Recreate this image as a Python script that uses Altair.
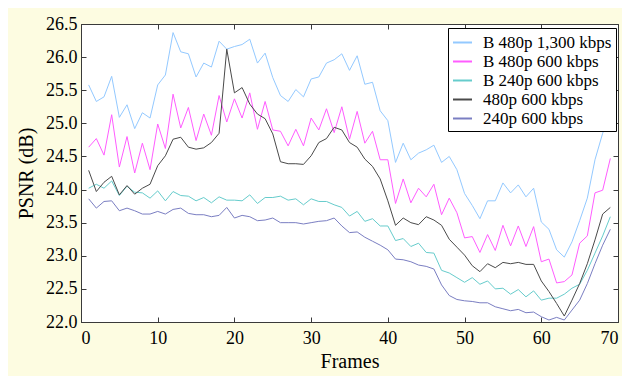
import altair as alt
import pandas as pd

frames = list(range(1, 70))

b480_1300 = [25.58, 25.33, 25.40, 25.71, 25.09, 25.28, 24.92, 25.16, 25.08, 25.58,
             25.73, 26.37, 26.08, 26.05, 25.70, 25.91, 25.85, 26.24, 26.12, 26.16,
             26.19, 26.27, 25.91, 26.06, 25.69, 25.42, 25.33, 25.51, 25.40, 25.67,
             25.70, 25.91, 25.96, 26.05, 25.80, 26.02, 25.59, 25.62, 25.19, 25.04,
             24.41, 24.70, 24.45, 24.55, 24.60, 24.67, 24.41, 24.50, 24.30, 23.94,
             23.76, 23.56, 23.83, 23.83, 24.10, 23.95, 24.07, 23.89, 24.02, 23.51,
             23.40, 23.09, 22.98, 23.21, 23.53, 23.87, 24.45, 24.85, 25.15]

b480_600 = [24.64, 24.77, 24.52, 25.13, 24.34, 24.80, 24.25, 24.70, 24.30, 24.99,
            24.62, 25.44, 24.93, 25.24, 24.74, 25.14, 24.82, 25.42, 25.02, 25.37,
            25.08, 25.46, 24.91, 25.33, 24.90, 24.88, 24.66, 24.91, 24.66, 25.08,
            24.90, 25.22, 24.86, 25.25, 24.76, 25.18, 24.70, 24.88, 24.45, 24.45,
            23.79, 24.16, 23.80, 24.02, 23.89, 24.08, 23.62, 23.87, 23.65, 23.27,
            23.29, 23.05, 23.32, 23.08, 23.46, 23.15, 23.45, 23.14, 23.44, 22.91,
            22.95, 22.59, 22.61, 22.71, 23.19, 23.30, 23.95, 23.99, 24.47]

b240_600 = [24.02, 24.08, 24.02, 24.13, 23.91, 24.05, 23.96, 23.95, 23.87, 23.98,
            23.83, 23.97, 23.91, 23.90, 23.83, 23.88, 23.80, 23.89, 23.84, 23.84,
            23.83, 23.92, 23.79, 23.88, 23.88, 23.90, 23.84, 23.86, 23.77, 23.86,
            23.82, 23.82, 23.77, 23.73, 23.60, 23.67, 23.52, 23.56, 23.45, 23.45,
            23.23, 23.26, 23.14, 23.19, 23.05, 23.04, 22.78, 22.74, 22.67, 22.60,
            22.67, 22.57, 22.62, 22.50, 22.51, 22.42, 22.49, 22.38, 22.47, 22.33,
            22.36, 22.36, 22.42, 22.51, 22.57, 22.78, 23.04, 23.30, 23.59]

s480_600 = [24.29, 23.97, 24.11, 24.20, 23.92, 24.06, 23.93, 24.02, 24.08, 24.36,
            24.51, 24.76, 24.79, 24.64, 24.61, 24.63, 24.71, 24.85, 26.12, 25.46,
            25.54, 25.29, 25.14, 25.07, 24.84, 24.42, 24.39, 24.39, 24.38, 24.51,
            24.71, 24.77, 24.94, 24.90, 24.71, 24.64, 24.46, 24.35, 24.16, 23.83,
            23.46, 23.57, 23.50, 23.47, 23.59, 23.54, 23.46, 23.25, 23.13, 23.01,
            22.85, 22.76, 22.88, 22.82, 22.90, 22.88, 22.90, 22.87, 22.87, 22.62,
            22.46, 22.28, 22.09, 22.33, 22.58, 22.88, 23.24, 23.63, 23.73]

s240_600 = [23.86, 23.72, 23.82, 23.83, 23.68, 23.72, 23.68, 23.63, 23.63, 23.67,
            23.63, 23.70, 23.72, 23.64, 23.62, 23.62, 23.59, 23.61, 23.73, 23.57,
            23.61, 23.59, 23.53, 23.54, 23.57, 23.50, 23.50, 23.50, 23.48, 23.50,
            23.52, 23.53, 23.57, 23.45, 23.35, 23.36, 23.28, 23.22, 23.16, 23.09,
            22.95, 22.94, 22.91, 22.86, 22.84, 22.80, 22.56, 22.40, 22.34, 22.32,
            22.31, 22.29, 22.29, 22.23, 22.20, 22.17, 22.19, 22.14, 22.15, 22.08,
            22.03, 22.07, 22.03, 22.18, 22.33, 22.58, 22.88, 23.16, 23.40]

series_names = ["B 480p 1,300 kbps", "B 480p 600 kbps", "B 240p 600 kbps",
                "480p 600 kbps", "240p 600 kbps"]
series_colors = ["#93C9FF", "#FF5CFF", "#66CCCC", "#4A4A4A", "#7A7EC2"]
all_values = [b480_1300, b480_600, b240_600, s480_600, s240_600]

x_ticks = [0, 10, 20, 30, 40, 50, 60, 70]
y_ticks = [22.0, 22.5, 23.0, 23.5, 24.0, 24.5, 25.0, 25.5, 26.0, 26.5]

rows = []
for name, vals in zip(series_names, all_values):
    for f, v in zip(frames, vals):
        rows.append({"Frame": f, "PSNR": v, "Series": name})
df = pd.DataFrame(rows)

FONT = "'Liberation Serif', 'Times New Roman', 'DejaVu Serif', serif"
AX = "#3a3a3a"

xscale = alt.Scale(domain=[0, 70], nice=False, zero=False)
yscale = alt.Scale(domain=[22.0, 26.5], nice=False, zero=False)

main = alt.Chart(df).mark_line(strokeWidth=1).encode(
    x=alt.X("Frame:Q", scale=xscale,
            axis=alt.Axis(values=x_ticks, title="Frames", ticks=False, grid=False,
                          labelFont=FONT, labelFontSize=18, labelColor="black",
                          labelPadding=7, titleFont=FONT, titleFontSize=20,
                          titleFontWeight="normal", titleColor="black",
                          titlePadding=4, domainColor=AX, orient="bottom")),
    y=alt.Y("PSNR:Q", scale=yscale,
            axis=alt.Axis(values=y_ticks, format=".1f", title="PSNR (dB)", ticks=False,
                          grid=False, labelFont=FONT, labelFontSize=18,
                          labelColor="black", labelPadding=4, titleFont=FONT,
                          titleFontSize=20, titleFontWeight="normal",
                          titleColor="black", titlePadding=9, domainColor=AX,
                          orient="left")),
    color=alt.Color("Series:N",
                    scale=alt.Scale(domain=series_names, range=series_colors),
                    sort=series_names,
                    legend=alt.Legend(orient="none", legendX=367, legendY=4, title=None,
                                      symbolType="stroke", symbolSize=361,
                                      symbolStrokeWidth=2, labelFont=FONT,
                                      labelFontSize=17, labelColor="black",
                                      labelOffset=10, rowPadding=0, padding=4,
                                      strokeColor="black", fillColor="white",
                                      cornerRadius=0)),
    detail="Series:N",
)

tick_axis = dict(labels=False, domain=False, grid=False, title=None, tickSize=5,
                 tickColor=AX, offset=-5)

ticks_a = alt.Chart(df).mark_line(opacity=0).encode(
    x=alt.X("Frame:Q", scale=xscale,
            axis=alt.Axis(values=x_ticks, orient="top", **tick_axis)),
    y=alt.Y("PSNR:Q", scale=yscale,
            axis=alt.Axis(values=y_ticks, orient="right", **tick_axis)),
    detail="Series:N",
)

ticks_b = alt.Chart(df).mark_line(opacity=0).encode(
    x=alt.X("Frame:Q", scale=xscale,
            axis=alt.Axis(values=x_ticks, orient="bottom", **tick_axis)),
    y=alt.Y("PSNR:Q", scale=yscale,
            axis=alt.Axis(values=y_ticks, orient="left", **tick_axis)),
    detail="Series:N",
)

chart = alt.layer(main, ticks_a, ticks_b).resolve_axis(
    x="independent", y="independent"
).properties(
    width=537, height=298,
    background="#FDFCE1",
    autosize=alt.AutoSizeParams(type="none"),
    padding={"left": 73, "top": 16, "right": 4, "bottom": 54},
).configure_view(
    stroke=AX, strokeWidth=1, fill="white"
)

chart.save("out.html", embed_options={"renderer": "svg", "actions": False})
